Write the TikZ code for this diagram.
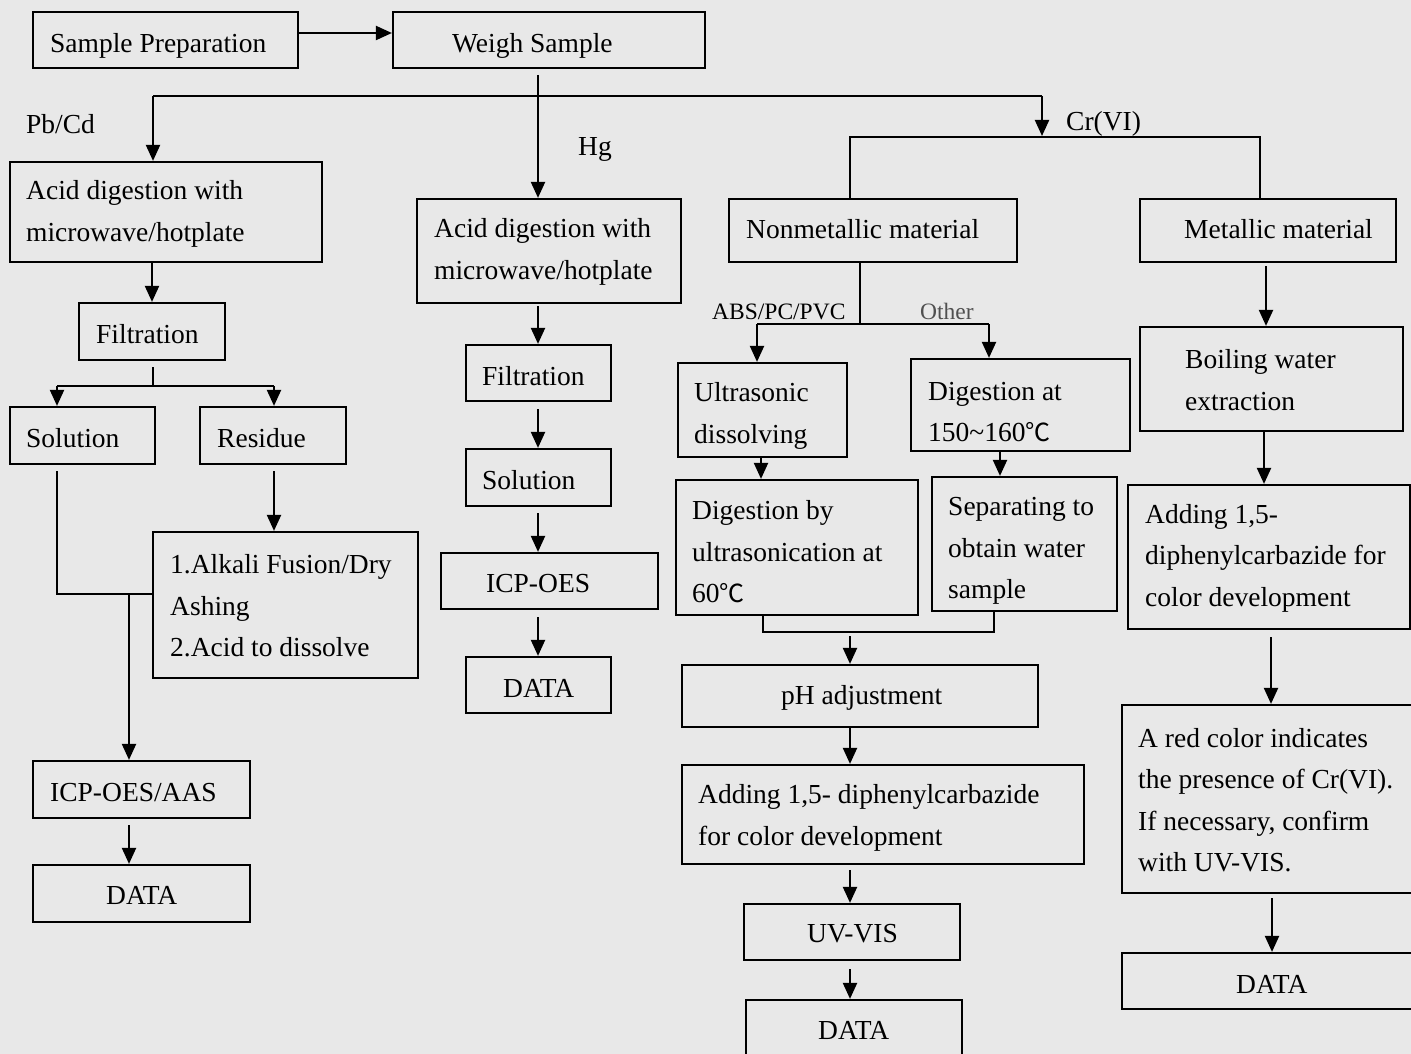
\documentclass[tikz,border=0pt]{standalone}
\usepackage{fontspec}
\setmainfont{Liberation Serif}
\newfontfamily\cjk{Noto Sans CJK SC}
\usetikzlibrary{arrows.meta,fit}
\definecolor{bgc}{RGB}{232,232,232}
\definecolor{othc}{RGB}{80,80,80}
\newcommand{\degC}{{\cjk\fontsize{25}{42}\selectfont ℃}}
\tikzset{
  box/.style={draw=black,line width=2.2pt,inner sep=0pt},
  txt/.style={inner sep=0pt,align=left,font=\fontsize{27.5}{41.5}\selectfont},
  small/.style={inner sep=0pt,font=\fontsize{23.5}{28}\selectfont},
  ln/.style={line width=2.1pt},
  thk/.style={line width=2.8pt},
  arr/.style={line width=2.1pt,-{Triangle[length=16pt,width=14pt]}}
}
\begin{document}
\begin{tikzpicture}[x=1pt,y=-1pt]
\useasboundingbox (0,0) rectangle (1411,1054);
\fill[bgc] (0,0) rectangle (1411,1054);
\begin{scope}
\clip (0,0) rectangle (1411,1054);
% ---------- boxes ----------
\node[box,fit={(33,12)(298,68)}] (sp) {};
\node[box,fit={(393,12)(705,68)}] (ws) {};
\node[box,fit={(10,162)(322,262)}] (aL) {};
\node[box,fit={(79,303)(225,360)}] (fL) {};
\node[box,fit={(10,407)(155,464)}] (solL) {};
\node[box,fit={(200,407)(346,464)}] (resL) {};
\node[box,fit={(153,532)(418,678)}] (alk) {};
\node[box,fit={(33,761)(250,818)}] (icpL) {};
\node[box,fit={(33,865)(250,922)}] (dL) {};
\node[box,fit={(417,199)(681,303)}] (hgA) {};
\node[box,fit={(466,345)(611,401)}] (fM) {};
\node[box,fit={(466,449)(611,506)}] (sM) {};
\node[box,fit={(441,553)(658,609)}] (icpM) {};
\node[box,fit={(466,657)(611,713)}] (dM) {};
\node[box,fit={(729,199)(1017,262)}] (nm) {};
\node[box,fit={(1140,199)(1396,262)}] (mt) {};
\node[box,fit={(678,363)(847,457)}] (us) {};
\node[box,fit={(911,359)(1130,451)}] (dat) {};
\node[box,fit={(1140,327)(1403,431)}] (bw) {};
\node[box,fit={(676,480)(918,615)}] (dby) {};
\node[box,fit={(932,477)(1117,611)}] (sep) {};
\node[box,fit={(682,665)(1038,727)}] (ph) {};
\node[box,fit={(682,765)(1084,864)}] (add) {};
\node[box,fit={(744,904)(960,960)}] (uv) {};
\node[box,fit={(746,1000)(962,1070)}] (dB) {};
\node[box,fit={(1128,485)(1410,629)}] (ad1) {};
\node[box,fit={(1122,705)(1425,893)}] (red) {};
\node[box,fit={(1122,953)(1425,1009)}] (dR) {};
% ---------- texts ----------
\node[txt,anchor=base west] (sp-t) at (50,53) {Sample Preparation};
\node[txt,anchor=base west] (ws-t) at (452,53) {Weigh Sample};
\node[txt,anchor=base west] (pb-t) at (26,134) {Pb/Cd};
\node[txt,anchor=base west] (hg-t) at (578,156) {Hg};
\node[txt,anchor=base west] (cr-t) at (1066,131) {Cr(VI)};
\node[txt,anchor=west] (aL-t) at (26,214) {Acid digestion with\\microwave/hotplate};
\node[txt,anchor=base west] (fL-t) at (96,343) {Filtration};
\node[txt,anchor=base west] (solL-t) at (26,447) {Solution};
\node[txt,anchor=base west] (resL-t) at (217,447) {Residue};
\node[txt,anchor=west] (alk-t) at (170,606) {1.Alkali Fusion/Dry\\Ashing\\2.Acid to dissolve};
\node[txt,anchor=base west] (icpL-t) at (50,801) {ICP-OES/AAS};
\node[txt,anchor=base west] (dL-t) at (106,904) {DATA};
\node[txt,anchor=west] (hgA-t) at (434,252) {Acid digestion with\\microwave/hotplate};
\node[txt,anchor=base west] (fM-t) at (482,385) {Filtration};
\node[txt,anchor=base west] (sM-t) at (482,489) {Solution};
\node[txt,anchor=base west] (icpM-t) at (486,592) {ICP-OES};
\node[txt,anchor=base west] (dM-t) at (503,697) {DATA};
\node[txt,anchor=base west] (nm-t) at (746,238) {Nonmetallic material};
\node[txt,anchor=base west] (mt-t) at (1184,238) {Metallic material};
\node[small,anchor=base west] (abs-t) at (712,319) {ABS/PC/PVC};
\node[small,anchor=base west,text=othc] (oth-t) at (920,319) {Other};
\node[txt,anchor=west] (us-t) at (694,416) {Ultrasonic\\dissolving};
\node[txt,anchor=west] (dat-t) at (928,412) {Digestion at\\150\textasciitilde160\degC};
\node[txt,anchor=west] (bw-t) at (1185,380) {Boiling water\\extraction};
\node[txt,anchor=west] (dby-t) at (692,552) {Digestion by\\ultrasonication at\\60\degC};
\node[txt,anchor=west] (sep-t) at (948,551) {Separating to\\obtain water\\sample};
\node[txt,anchor=base west] (ph-t) at (781,704) {pH adjustment};
\node[txt,anchor=west] (add-t) at (698,818) {Adding 1,5- diphenylcarbazide\\for color development};
\node[txt,anchor=base west] (uv-t) at (807,942) {UV-VIS};
\node[txt,anchor=base west] (dB-t) at (818,1039) {DATA};
\node[txt,anchor=west] (ad1-t) at (1145,558) {Adding 1,5-\\diphenylcarbazide for\\color development};
\node[txt,anchor=west] (red-t) at (1138,800) {A red color indicates\\the presence of Cr(VI).\\If necessary, confirm\\with UV-VIS.};
\node[txt,anchor=base west] (dR-t) at (1236,993) {DATA};
% ---------- connectors ----------
\draw[arr] ([yshift=7pt]sp.east) -- ([yshift=7pt]ws.west);
\coordinate (busL) at (153,96);
\coordinate (busR) at (1042,96);
\coordinate (hgx) at (538,75);
\draw[ln] (busL) -- (busR);
\draw[arr] (busL) -- (busL |- aL.north);
\draw[arr] (hgx) -- (hgx |- hgA.north);
\draw[arr] (busR) -- (1042,136);
% Pb/Cd column
\draw[arr] (fL.north |- aL.south) -- (fL.north);
\coordinate (fLj) at (153,386);
\coordinate (brL) at (57,386);
\coordinate (brR) at (274,386);
\draw[thk,shorten <=6pt] (fLj |- fL.south) -- (fLj);
\draw[thk] (brL) -- (brR);
\draw[arr] (brL) -- (brL |- solL.north);
\draw[arr] (brR) -- (brR |- resL.north);
\draw[arr,shorten <=6pt] (brR |- resL.south) -- (brR |- alk.north);
\coordinate (mj) at (57,594);
\coordinate (mj2) at (129,594);
\draw[thk,shorten <=6pt] (brL |- solL.south) -- (mj) -- (mj -| alk.west);
\draw[arr] (mj2) -- (mj2 |- icpL.north);
\draw[arr,shorten <=6pt] (mj2 |- icpL.south) -- (mj2 |- dL.north);
% Hg column
\draw[arr,shorten <=2pt] (hgx |- hgA.south) -- (hgx |- fM.north);
\draw[arr,shorten <=7pt] (hgx |- fM.south) -- (hgx |- sM.north);
\draw[arr,shorten <=6pt] (hgx |- sM.south) -- (hgx |- icpM.north);
\draw[arr,shorten <=7pt] (hgx |- icpM.south) -- (hgx |- dM.north);
% Cr(VI)
\coordinate (crL) at (850,137);
\coordinate (crR) at (1260,137);
\draw[thk] (crL |- nm.north) -- (crL) -- (crR) -- (crR |- mt.north);
\coordinate (nmj) at (860,324);
\coordinate (nmL) at (757,324);
\coordinate (nmR) at (989,324);
\draw[ln] (nmj |- nm.south) -- (nmj);
\draw[ln] (nmL) -- (nmR);
\draw[arr] (nmL) -- (nmL |- us.north);
\draw[arr] (nmR) -- (nmR |- dat.north);
\coordinate (ux) at (761,457);
\draw[arr] (ux |- us.south) -- (ux |- dby.north);
\coordinate (dx) at (1000,451);
\draw[arr] (dx |- dat.south) -- (dx |- sep.north);
\coordinate (mgL) at (763,632);
\coordinate (mgR) at (994,632);
\draw[ln] (mgL |- dby.south) -- (mgL) -- (mgR) -- (mgR |- sep.south);
\coordinate (cx) at (850,636);
\draw[arr] (cx) -- (cx |- ph.north);
\draw[arr] (cx |- ph.south) -- (cx |- add.north);
\draw[arr,shorten <=5pt] (cx |- add.south) -- (cx |- uv.north);
\draw[arr,shorten <=8pt] (cx |- uv.south) -- (cx |- dB.north);
% metallic
\coordinate (m1) at (1266,262);
\draw[arr,shorten <=3pt] (m1 |- mt.south) -- (m1 |- bw.north);
\coordinate (m2) at (1264,431);
\draw[arr] (m2 |- bw.south) -- (m2 |- ad1.north);
\coordinate (m3) at (1271,629);
\draw[arr,shorten <=7pt] (m3 |- ad1.south) -- (m3 |- red.north);
\coordinate (m4) at (1272,893);
\draw[arr,shorten <=4pt] (m4 |- red.south) -- (m4 |- dR.north);
\end{scope}
\end{tikzpicture}
\end{document}
